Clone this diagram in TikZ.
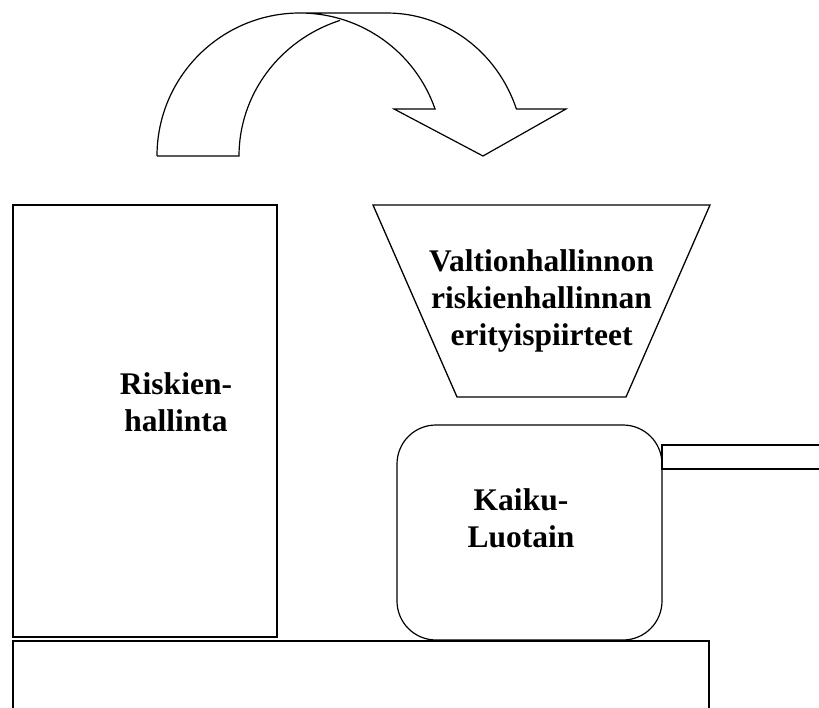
\documentclass[tikz,border=0pt]{standalone}
\usepackage{fontspec}
\setmainfont{Liberation Serif}
\begin{document}
\begin{tikzpicture}[x=1pt,y=-1pt,
  frame/.style={draw=black, line width=1.6pt, inner sep=0pt, outer sep=0pt},
  soft/.style={draw=black, line width=1.2pt, line join=miter},
  boxlabel/.style={font=\bfseries\fontsize{31.5}{37}\selectfont, align=center, text=black, inner sep=0pt}]
\useasboundingbox (0,0) rectangle (819,708);
\fill[white] (0,0) rectangle (819,708);
\clip (0,0) rectangle (819,708);

% curved arrow: two overlapping circular bands and the head
\draw[soft] (157,156) arc[start angle=180, end angle=340.8, radius=143]
  -- (394,109) -- (483,156) -- (566,109) -- (516.4,109)
  arc[start angle=340.8, end angle=270, x radius=137, y radius=143]
  -- (300,13);
\draw[soft] (157,156) -- (239,156)
  arc[start angle=180, end angle=251.5, x radius=148, y radius=143];

% left block
\node[frame, anchor=north west, minimum width=264pt, minimum height=432pt] (risk) at (13,205) {};
\node[boxlabel] (risktext) at (176,402) {Riskien-\\hallinta};

% base block
\node[frame, anchor=north west, minimum width=696pt, minimum height=100pt] (base) at (13,641) {};

% funnel
\coordinate (f1) at (373,205);
\coordinate (f2) at (710,205);
\coordinate (f3) at (626,397);
\coordinate (f4) at (457,397);
\draw[frame, line width=1.3pt] (f1) -- (f2) -- (f3) -- (f4) -- cycle;
\node[boxlabel] (funneltext) at (541.5,301) {Valtionhallinnon\\riskienhallinnan\\erityispiirteet};

% echo sounder
\node[soft, rounded corners=39pt, anchor=north west, minimum width=265pt, minimum height=215pt, inner sep=0pt, outer sep=0pt] (kaiku) at (397,425) {};
\node[boxlabel] (kaikutext) at (521,518) {Kaiku-\\Luotain};
\node[frame, anchor=north west, minimum width=180pt, minimum height=24pt] (probe) at (662,445) {};
\end{tikzpicture}
\end{document}
